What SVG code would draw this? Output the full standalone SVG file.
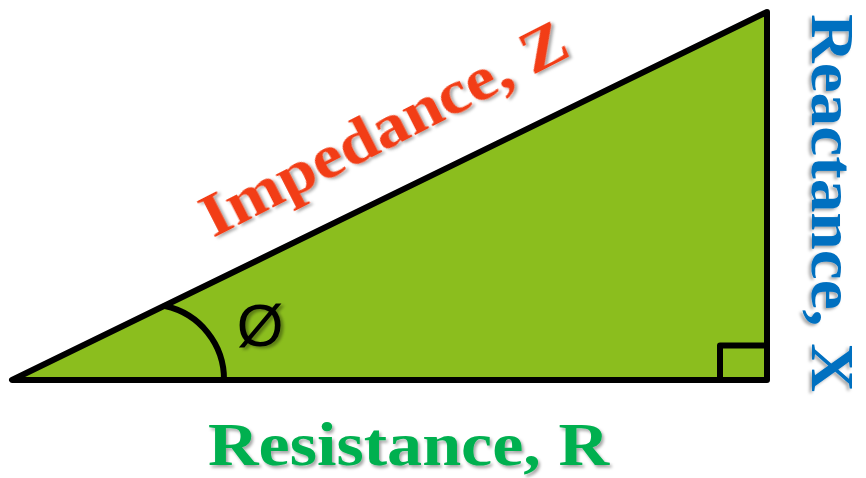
<svg xmlns="http://www.w3.org/2000/svg" width="866" height="478" viewBox="0 0 866 478">
  <defs>
    <filter id="sh" x="-10%" y="-10%" width="120%" height="130%">
      <feDropShadow dx="2" dy="2.5" stdDeviation="1.5" flood-color="#000" flood-opacity="0.35"/>
    </filter>
    <filter id="sh2" x="-10%" y="-10%" width="130%" height="130%">
      <feDropShadow dx="3" dy="2" stdDeviation="1.5" flood-color="#000" flood-opacity="0.35"/>
    </filter>
  </defs>
  <style>
    .lbl { font-family: "Liberation Serif", "Times New Roman", serif; font-weight: bold; font-size: 62px; }
    .edge { fill: none; stroke: #000; stroke-width: 6; stroke-linejoin: round; stroke-linecap: round; }
  </style>
  <g id="triangle">
    <path d="M12 380 L767 380 L767 12 Z" fill="#8BBE1E" stroke="#000" stroke-width="6" stroke-linejoin="round"/>
    <path class="edge" d="M720 380 V345.5 H767" stroke-linecap="butt" stroke-width="5"/>
    <path class="edge" d="M165 306 A75 75 0 0 1 224 380" stroke-width="5" stroke-linecap="butt"/>
  </g>
  <g id="angle">
    <text x="260" y="346" font-family="'Liberation Sans', Arial, sans-serif" font-size="60" text-anchor="middle" fill="#000" filter="url(#sh2)">Ø</text>
  </g>
  <g id="impedance">
    <text class="lbl" transform="translate(213 238) rotate(-27)" x="0" y="0" fill="#F23C14" font-size="63" textLength="404" lengthAdjust="spacingAndGlyphs" filter="url(#sh)">Impedance, Z</text>
  </g>
  <g id="reactance">
    <text class="lbl" transform="translate(812 14) rotate(90)" x="0" y="0" fill="#0070C0" font-size="58" textLength="378" lengthAdjust="spacingAndGlyphs" filter="url(#sh)">Reactance, X</text>
  </g>
  <g id="resistance">
    <text class="lbl" x="208" y="465" fill="#00B050" font-size="63" textLength="401" lengthAdjust="spacingAndGlyphs" filter="url(#sh)">Resistance, R</text>
  </g>
</svg>
